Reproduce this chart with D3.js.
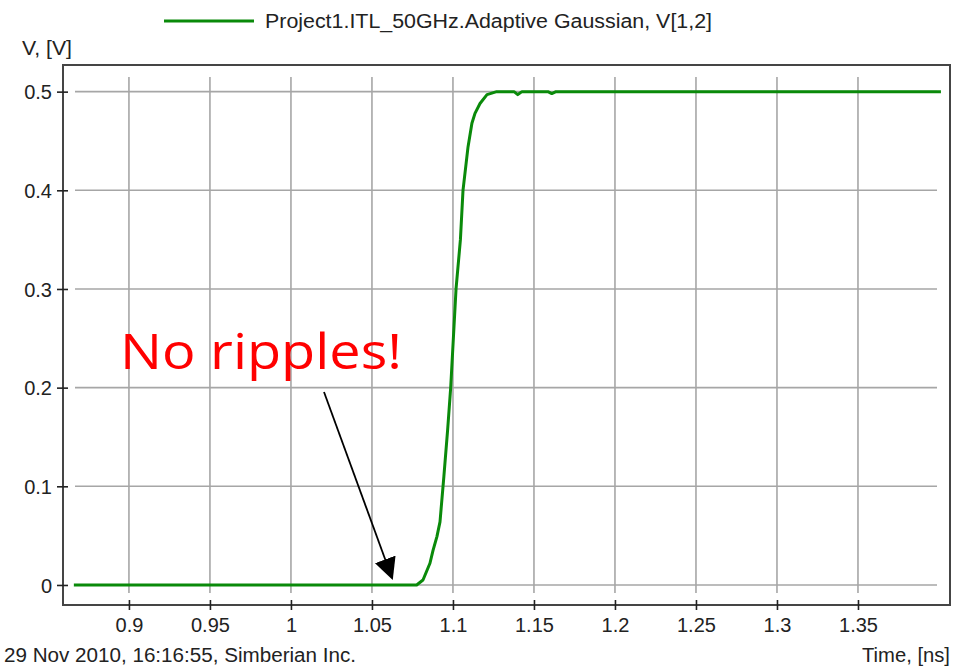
<!DOCTYPE html>
<html>
<head>
<meta charset="utf-8">
<script src="https://cdn.jsdelivr.net/npm/d3@7"></script>
<style>
  html, body { margin: 0; padding: 0; background: #fff; }
  svg { display: block; }
  text { font-family: "Liberation Sans", Arial, sans-serif; fill: #222; }
</style>
</head>
<body>
<svg id="chart" width="963" height="666"></svg>
<script>
// Step response samples: time [ns] and voltage [V]
const timeNs = [0.866, 1.0776, 1.0815, 1.0858, 1.0877, 1.0901, 1.092, 1.0944, 1.0967, 1.0986,
                1.1019, 1.1046, 1.1062, 1.1093, 1.1117, 1.1136, 1.1167, 1.121, 1.127,
                1.1377, 1.140, 1.1426, 1.1586, 1.161, 1.1636, 1.4012];
const voltage = [0, 0, 0.005, 0.022, 0.035, 0.049, 0.064, 0.11, 0.157, 0.2,
                 0.3, 0.35, 0.4, 0.444, 0.468, 0.478, 0.488, 0.497, 0.5,
                 0.5, 0.497, 0.5, 0.5, 0.498, 0.5, 0.5];

const xTicks = [0.9, 0.95, 1, 1.05, 1.1, 1.15, 1.2, 1.25, 1.3, 1.35];
const yTicks = [0, 0.1, 0.2, 0.3, 0.4, 0.5];

const seriesName = "Project1.ITL_50GHz.Adaptive Gaussian, V[1,2]";
const yTitle = "V, [V]";
const xTitle = "Time, [ns]";
const footer = "29 Nov 2010, 16:16:55, Simberian Inc.";
const note = "No ripples!";

const svg = d3.select("#chart");
const frame = { left: 63, right: 950, top: 65, bottom: 605 };

const x = d3.scaleLinear().domain([0.8593, 1.4068]).range([frame.left, frame.right]);
const y = d3.scaleLinear().domain([-0.0203, 0.527]).range([frame.bottom, frame.top]);

const gridColor = "#a6a6a6";
const frameColor = "#454545";
const lineColor = "#0a8a0a";

// grid lines (inset from the frame)
svg.append("g").selectAll("line").data(yTicks).join("line")
  .attr("x1", frame.left + 12).attr("x2", frame.right - 13)
  .attr("y1", d => y(d)).attr("y2", d => y(d))
  .attr("stroke", gridColor).attr("stroke-width", 1.6);

svg.append("g").selectAll("line").data(xTicks).join("line")
  .attr("x1", d => x(d)).attr("x2", d => x(d))
  .attr("y1", frame.top + 12).attr("y2", frame.bottom - 12)
  .attr("stroke", gridColor).attr("stroke-width", 1.6);

// frame
svg.append("rect")
  .attr("x", frame.left).attr("y", frame.top)
  .attr("width", frame.right - frame.left).attr("height", frame.bottom - frame.top)
  .attr("fill", "none").attr("stroke", frameColor).attr("stroke-width", 2);

// y axis: ticks crossing the left edge
const gy = svg.append("g").attr("transform", `translate(${frame.left},0)`)
  .call(d3.axisLeft(y).tickValues(yTicks).tickFormat(d3.format("~g")));
gy.attr("font-size", 20).attr("font-family", "Liberation Sans, Arial, sans-serif");
gy.select(".domain").remove();
gy.selectAll(".tick line").attr("x1", -6).attr("x2", 5).attr("stroke", "#222").attr("stroke-width", 1.6);
gy.selectAll(".tick text").attr("x", -11).attr("dy", "0.36em").attr("fill", "#222");

// x axis: ticks crossing the bottom edge
const gx = svg.append("g").attr("transform", `translate(0,${frame.bottom})`)
  .call(d3.axisBottom(x).tickValues(xTicks).tickFormat(d3.format("~g")));
gx.attr("font-size", 20).attr("font-family", "Liberation Sans, Arial, sans-serif");
gx.select(".domain").remove();
gx.selectAll(".tick line").attr("y1", -5).attr("y2", 5).attr("stroke", "#222").attr("stroke-width", 1.6);
gx.selectAll(".tick text").attr("y", 13).attr("dy", "0.71em").attr("fill", "#222");

// series
const pts = timeNs.map((t, i) => [t, voltage[i]]);
svg.append("path").datum(pts)
  .attr("d", d3.line().x(d => x(d[0])).y(d => y(d[1])))
  .attr("fill", "none").attr("stroke", lineColor).attr("stroke-width", 3)
  .attr("stroke-linejoin", "round");

// legend
svg.append("line").attr("x1", 164).attr("x2", 254).attr("y1", 21).attr("y2", 21)
  .attr("stroke", lineColor).attr("stroke-width", 3);
svg.append("text").attr("x", 265).attr("y", 28).text(seriesName)
  .style("font-size", "20px").attr("textLength", 447).attr("lengthAdjust", "spacingAndGlyphs");

// axis titles and footer
svg.append("text").attr("x", 22).attr("y", 55).text(yTitle)
  .style("font-size", "20px").attr("textLength", 50).attr("lengthAdjust", "spacingAndGlyphs");
svg.append("text").attr("x", 862).attr("y", 662).text(xTitle)
  .style("font-size", "20px").attr("textLength", 88).attr("lengthAdjust", "spacingAndGlyphs");
svg.append("text").attr("x", 4).attr("y", 662).text(footer)
  .style("font-size", "20px").attr("textLength", 352).attr("lengthAdjust", "spacingAndGlyphs");

// annotation
svg.append("text").attr("x", 120).attr("y", 369).text(note)
  .style("font-size", "50px").style("font-family", "Open Sans, Liberation Sans, sans-serif")
  .style("fill", "#ff0000").attr("textLength", 282).attr("lengthAdjust", "spacingAndGlyphs");

svg.append("defs").append("marker")
  .attr("id", "arrowhead").attr("viewBox", "0 0 10 10")
  .attr("refX", 9).attr("refY", 5).attr("markerWidth", 22).attr("markerHeight", 22)
  .attr("markerUnits", "userSpaceOnUse").attr("orient", "auto")
  .append("path").attr("d", "M0,0 L10,5 L0,10 Z").attr("fill", "#000");

svg.append("line").attr("x1", 324).attr("y1", 392).attr("x2", 392).attr("y2", 578)
  .attr("stroke", "#000").attr("stroke-width", 1.8).attr("marker-end", "url(#arrowhead)");
</script>
</body>
</html>
